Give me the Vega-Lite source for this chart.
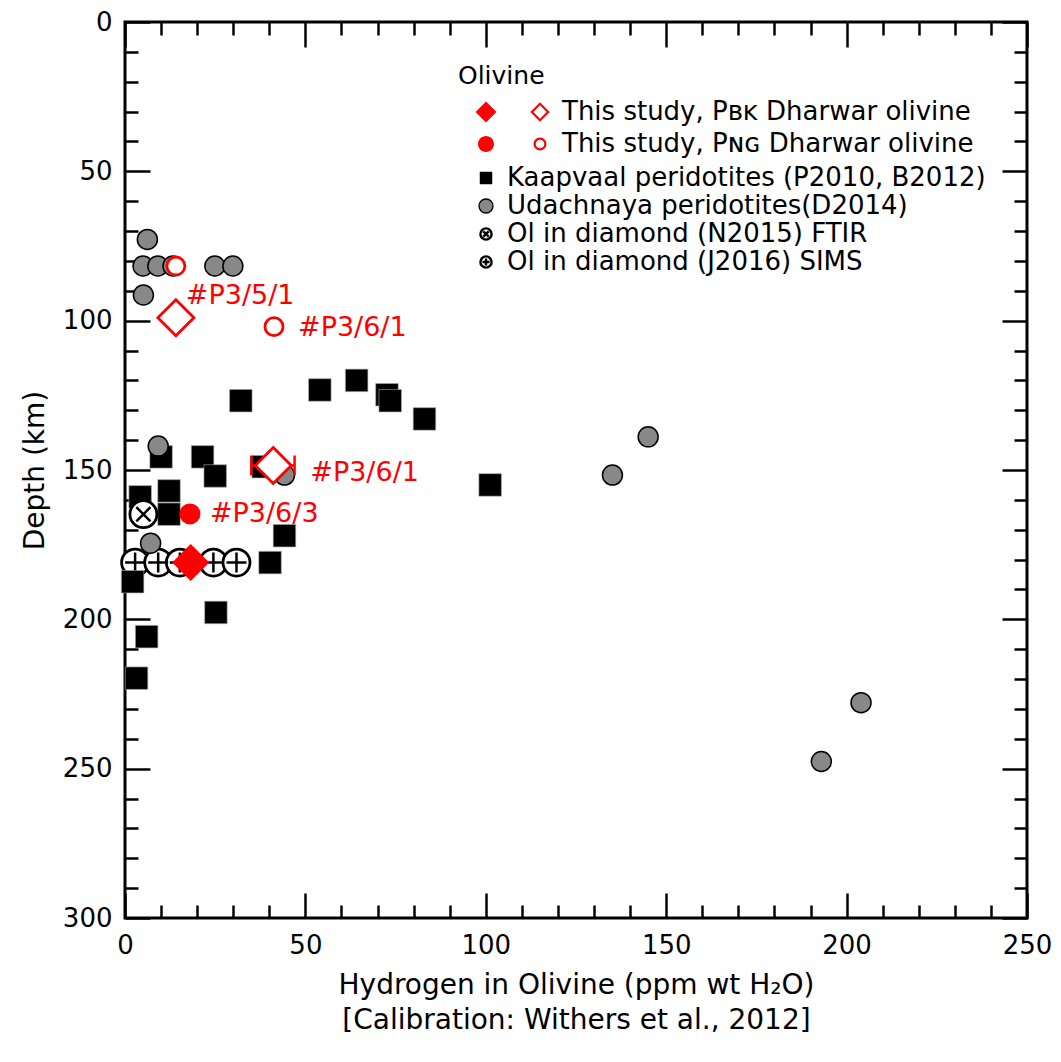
{
  "$schema": "https://vega.github.io/schema/vega-lite/v6.json",
  "width": 902,
  "height": 896,
  "autosize": {"type": "none"},
  "padding": {"left": 125, "top": 22, "right": 34, "bottom": 144},
  "background": "white",
  "config": {
    "view": {"stroke": "black", "strokeWidth": 3},
    "font": "DejaVu Sans",
    "axis": {
      "domain": false, "grid": false, "tickColor": "black", "tickWidth": 2.5,
      "labelColor": "black", "labelFont": "DejaVu Sans", "labelFontSize": 26,
      "labelFlush": false, "labelOverlap": false,
      "titleFont": "DejaVu Sans", "titleFontSize": 28, "titleFontWeight": "normal", "titleColor": "black"
    },
    "legend": {
      "orient": "none", "padding": 0,
      "titleFont": "DejaVu Sans", "titleFontSize": 25, "titleFontWeight": "normal", "titleColor": "black", "titlePadding": 10,
      "labelFont": "DejaVu Sans", "labelFontSize": 26, "labelColor": "black", "labelLimit": 900,
      "symbolSize": 256, "symbolOffset": 15
    }
  },
  "datasets": {
    "pts": [
      {"s": "J2016", "h": 2.8, "d": 181},
      {"s": "J2016", "h": 9.2, "d": 181},
      {"s": "J2016", "h": 15.2, "d": 181},
      {"s": "J2016", "h": 24.5, "d": 181},
      {"s": "J2016", "h": 30.9, "d": 181},
      {"s": "KV", "h": 10, "d": 145.6},
      {"s": "KV", "h": 21.5, "d": 145.6},
      {"s": "KV", "h": 25, "d": 152},
      {"s": "KV", "h": 38.3, "d": 148.9},
      {"s": "KV", "h": 4.2, "d": 159},
      {"s": "KV", "h": 12.2, "d": 157},
      {"s": "KV", "h": 12.2, "d": 164.8},
      {"s": "KV", "h": 44.2, "d": 172},
      {"s": "KV", "h": 40.2, "d": 181},
      {"s": "KV", "h": 2.1, "d": 187.4},
      {"s": "KV", "h": 25.2, "d": 197.7},
      {"s": "KV", "h": 6.0, "d": 205.8},
      {"s": "KV", "h": 3.2, "d": 219.7},
      {"s": "KV", "h": 32.1, "d": 126.8},
      {"s": "KV", "h": 54.0, "d": 123.2},
      {"s": "KV", "h": 64.2, "d": 120},
      {"s": "KV", "h": 72.6, "d": 124.8},
      {"s": "KV", "h": 73.5, "d": 126.8},
      {"s": "KV", "h": 83.0, "d": 132.9},
      {"s": "KV", "h": 101.2, "d": 155},
      {"s": "N2015", "h": 5.1, "d": 164.8},
      {"s": "UD", "h": 6.2, "d": 72.8},
      {"s": "UD", "h": 5.0, "d": 81.7},
      {"s": "UD", "h": 9.1, "d": 81.7},
      {"s": "UD", "h": 13.3, "d": 81.7},
      {"s": "UD", "h": 24.9, "d": 81.7},
      {"s": "UD", "h": 29.9, "d": 81.7},
      {"s": "UD", "h": 5.1, "d": 91.4},
      {"s": "UD", "h": 9.2, "d": 142},
      {"s": "UD", "h": 44.2, "d": 151.7},
      {"s": "UD", "h": 7.1, "d": 174.5},
      {"s": "UD", "h": 145.0, "d": 138.9},
      {"s": "UD", "h": 135.1, "d": 151.7},
      {"s": "UD", "h": 204, "d": 227.9},
      {"s": "UD", "h": 193, "d": 247.6},
      {"s": "BK", "st": "filled", "h": 18.2, "d": 181},
      {"s": "BK", "st": "open", "h": 14.1, "d": 99, "lab": "a", "label": "#P3/5/1"},
      {"s": "BK", "st": "open", "h": 41.1, "d": 148.5, "lab": "b", "label": "#P3/6/1", "lo": 35, "hi": 47},
      {"s": "NG", "st": "filled", "h": 18, "d": 164.7, "lab": "c", "label": "#P3/6/3"},
      {"s": "NG", "st": "open", "h": 14.1, "d": 81.7},
      {"s": "NG", "st": "open", "h": 41.3, "d": 102, "lab": "d", "label": "#P3/6/1"}
    ]
  },
  "data": {"name": "pts"},
  "resolve": {
    "axis": {"x": "independent", "y": "independent"},
    "scale": {"shape": "independent", "fill": "independent", "stroke": "independent", "strokeWidth": "independent"}
  },
  "layer": [
    {
      "transform": [{"filter": "datum.s == 'J2016'"}],
      "mark": {"type": "point", "shape": "circle", "filled": true, "fill": "white", "stroke": "black", "strokeWidth": 2.8, "size": 729, "opacity": 1},
      "encoding": {
        "x": {"field": "h", "type": "quantitative", "scale": {"domain": [0, 250], "nice": false},
          "axis": {"orient": "bottom", "values": [0, 50, 100, 150, 200, 250], "tickSize": -25, "labelPadding": 39,
            "title": ["Hydrogen in Olivine (ppm wt H₂O)", "[Calibration: Withers et al., 2012]"], "titlePadding": 13, "titleLineHeight": 35}},
        "y": {"field": "d", "type": "quantitative", "scale": {"domain": [0, 300], "nice": false, "reverse": true},
          "axis": {"orient": "left", "values": [0, 50, 100, 150, 200, 250, 300], "tickSize": -25, "labelPadding": 38,
            "title": "Depth (km)", "titlePadding": 13}}
      }
    },
    {
      "transform": [{"filter": "datum.s == 'J2016'"}],
      "mark": {"type": "point", "shape": "M-1,0L1,0M0,-1L0,1", "filled": false, "color": "black", "strokeWidth": 2.5, "size": 400, "opacity": 1},
      "encoding": {
        "x": {"field": "h", "type": "quantitative", "scale": {"domain": [0, 250], "nice": false},
          "axis": {"orient": "bottom", "values": [10, 20, 30, 40, 60, 70, 80, 90, 110, 120, 130, 140, 160, 170, 180, 190, 210, 220, 230, 240], "tickSize": -13, "labels": false, "title": null}},
        "y": {"field": "d", "type": "quantitative", "scale": {"domain": [0, 300], "nice": false, "reverse": true},
          "axis": {"orient": "left", "values": [10, 20, 30, 40, 60, 70, 80, 90, 110, 120, 130, 140, 160, 170, 180, 190, 210, 220, 230, 240, 260, 270, 280, 290], "tickSize": -13, "labels": false, "title": null}}
      }
    },
    {
      "transform": [{"filter": "datum.s == 'KV'"}],
      "mark": {"type": "point", "shape": "square", "filled": true, "fill": "black", "stroke": "#aaaaaa", "strokeWidth": 0.6, "size": 506, "opacity": 1},
      "encoding": {
        "x": {"field": "h", "type": "quantitative", "scale": {"domain": [0, 250], "nice": false},
          "axis": {"orient": "top", "values": [0, 50, 100, 150, 200, 250], "tickSize": -25, "labels": false, "title": null}},
        "y": {"field": "d", "type": "quantitative", "scale": {"domain": [0, 300], "nice": false, "reverse": true},
          "axis": {"orient": "right", "values": [0, 50, 100, 150, 200, 250, 300], "tickSize": -25, "labels": false, "title": null}}
      }
    },
    {
      "transform": [{"filter": "datum.s == 'N2015'"}],
      "mark": {"type": "point", "shape": "circle", "filled": true, "fill": "white", "stroke": "black", "strokeWidth": 2.8, "size": 729, "opacity": 1},
      "encoding": {
        "x": {"field": "h", "type": "quantitative", "scale": {"domain": [0, 250], "nice": false},
          "axis": {"orient": "top", "values": [10, 20, 30, 40, 60, 70, 80, 90, 110, 120, 130, 140, 160, 170, 180, 190, 210, 220, 230, 240], "tickSize": -13, "labels": false, "title": null}},
        "y": {"field": "d", "type": "quantitative", "scale": {"domain": [0, 300], "nice": false, "reverse": true},
          "axis": {"orient": "right", "values": [10, 20, 30, 40, 60, 70, 80, 90, 110, 120, 130, 140, 160, 170, 180, 190, 210, 220, 230, 240, 260, 270, 280, 290], "tickSize": -13, "labels": false, "title": null}}
      }
    },
    {
      "transform": [{"filter": "datum.s == 'N2015'"}],
      "mark": {"type": "point", "shape": "M-1,-1L1,1M-1,1L1,-1", "filled": false, "color": "black", "strokeWidth": 2.5, "size": 200, "opacity": 1},
      "encoding": {
        "x": {"field": "h", "type": "quantitative", "scale": {"domain": [0, 250], "nice": false}, "axis": null},
        "y": {"field": "d", "type": "quantitative", "scale": {"domain": [0, 300], "nice": false, "reverse": true}, "axis": null}
      }
    },
    {
      "transform": [{"filter": "datum.s == 'UD'"}],
      "mark": {"type": "point", "shape": "circle", "filled": true, "fill": "#888888", "stroke": "black", "strokeWidth": 1.5, "size": 400, "opacity": 1},
      "encoding": {
        "x": {"field": "h", "type": "quantitative", "scale": {"domain": [0, 250], "nice": false}, "axis": null},
        "y": {"field": "d", "type": "quantitative", "scale": {"domain": [0, 300], "nice": false, "reverse": true}, "axis": null}
      }
    },
    {
      "transform": [{"filter": "datum.lab == 'b'"}],
      "mark": {"type": "rule", "color": "red", "strokeWidth": 2.5, "opacity": 1},
      "encoding": {
        "x": {"field": "lo", "type": "quantitative", "scale": {"domain": [0, 250], "nice": false}, "axis": null},
        "x2": {"field": "hi"},
        "y": {"field": "d", "type": "quantitative", "scale": {"domain": [0, 300], "nice": false, "reverse": true}, "axis": null}
      }
    },
    {
      "transform": [{"filter": "datum.lab == 'b'"}, {"fold": ["lo", "hi"], "as": ["k", "v"]}],
      "mark": {"type": "point", "shape": "M0,-1L0,1", "filled": false, "color": "red", "strokeWidth": 2.5, "size": 400, "opacity": 1},
      "encoding": {
        "x": {"field": "v", "type": "quantitative", "scale": {"domain": [0, 250], "nice": false}, "axis": null},
        "y": {"field": "d", "type": "quantitative", "scale": {"domain": [0, 300], "nice": false, "reverse": true}, "axis": null}
      }
    },
    {
      "transform": [{"filter": "datum.s == 'BK' && datum.st == 'open'"}],
      "mark": {"type": "point", "shape": "diamond", "filled": true, "fill": "white", "stroke": "red", "strokeWidth": 2.8, "size": 1300, "opacity": 1},
      "encoding": {
        "x": {"field": "h", "type": "quantitative", "scale": {"domain": [0, 250], "nice": false}, "axis": null},
        "y": {"field": "d", "type": "quantitative", "scale": {"domain": [0, 300], "nice": false, "reverse": true}, "axis": null}
      }
    },
    {
      "transform": [{"filter": "datum.s == 'NG' && datum.st == 'open'"}],
      "mark": {"type": "point", "shape": "circle", "filled": true, "fill": "white", "stroke": "red", "strokeWidth": 2.8, "size": 324, "opacity": 1},
      "encoding": {
        "x": {"field": "h", "type": "quantitative", "scale": {"domain": [0, 250], "nice": false}, "axis": null},
        "y": {"field": "d", "type": "quantitative", "scale": {"domain": [0, 300], "nice": false, "reverse": true}, "axis": null}
      }
    },
    {
      "transform": [{"filter": "datum.s == 'NG' && datum.st == 'filled'"}],
      "mark": {"type": "point", "shape": "circle", "filled": true, "fill": "red", "strokeWidth": 0, "size": 441, "opacity": 1},
      "encoding": {
        "x": {"field": "h", "type": "quantitative", "scale": {"domain": [0, 250], "nice": false}, "axis": null},
        "y": {"field": "d", "type": "quantitative", "scale": {"domain": [0, 300], "nice": false, "reverse": true}, "axis": null}
      }
    },
    {
      "transform": [{"filter": "datum.s == 'BK' && datum.st == 'filled'"}],
      "mark": {"type": "point", "shape": "diamond", "filled": true, "fill": "red", "strokeWidth": 0, "size": 1369, "opacity": 1},
      "encoding": {
        "x": {"field": "h", "type": "quantitative", "scale": {"domain": [0, 250], "nice": false}, "axis": null},
        "y": {"field": "d", "type": "quantitative", "scale": {"domain": [0, 300], "nice": false, "reverse": true}, "axis": null}
      }
    },
    {
      "transform": [{"filter": "datum.lab == 'a'"}],
      "mark": {"type": "text", "align": "left", "baseline": "middle", "dx": 10, "dy": -22, "fontSize": 27, "font": "DejaVu Sans", "color": "red"},
      "encoding": {
        "x": {"field": "h", "type": "quantitative", "scale": {"domain": [0, 250], "nice": false}, "axis": null},
        "y": {"field": "d", "type": "quantitative", "scale": {"domain": [0, 300], "nice": false, "reverse": true}, "axis": null},
        "text": {"field": "label"}
      }
    },
    {
      "transform": [{"filter": "datum.lab == 'b'"}],
      "mark": {"type": "text", "align": "left", "baseline": "middle", "dx": 37, "dy": 7, "fontSize": 27, "font": "DejaVu Sans", "color": "red"},
      "encoding": {
        "x": {"field": "h", "type": "quantitative", "scale": {"domain": [0, 250], "nice": false}, "axis": null},
        "y": {"field": "d", "type": "quantitative", "scale": {"domain": [0, 300], "nice": false, "reverse": true}, "axis": null},
        "text": {"field": "label"}
      }
    },
    {
      "transform": [{"filter": "datum.lab == 'c'"}],
      "mark": {"type": "text", "align": "left", "baseline": "middle", "dx": 20, "dy": 0, "fontSize": 27, "font": "DejaVu Sans", "color": "red"},
      "encoding": {
        "x": {"field": "h", "type": "quantitative", "scale": {"domain": [0, 250], "nice": false}, "axis": null},
        "y": {"field": "d", "type": "quantitative", "scale": {"domain": [0, 300], "nice": false, "reverse": true}, "axis": null},
        "text": {"field": "label"}
      }
    },
    {
      "transform": [{"filter": "datum.lab == 'd'"}],
      "mark": {"type": "text", "align": "left", "baseline": "middle", "dx": 24, "dy": 1, "fontSize": 27, "font": "DejaVu Sans", "color": "red"},
      "encoding": {
        "x": {"field": "h", "type": "quantitative", "scale": {"domain": [0, 250], "nice": false}, "axis": null},
        "y": {"field": "d", "type": "quantitative", "scale": {"domain": [0, 300], "nice": false, "reverse": true}, "axis": null},
        "text": {"field": "label"}
      }
    },
    {
      "transform": [{"filter": "datum.h < 0"}],
      "mark": {"type": "point", "filled": true, "opacity": 1},
      "encoding": {
        "x": {"field": "h", "type": "quantitative", "scale": {"domain": [0, 250], "nice": false}, "axis": null},
        "y": {"field": "d", "type": "quantitative", "scale": {"domain": [0, 300], "nice": false, "reverse": true}, "axis": null},
        "shape": {"field": "s", "type": "nominal",
          "scale": {"domain": ["BK", "NG"],
            "range": [
              "M-1.3,0L0,-1.3L1.3,0L0,1.3Z M5.54,0L6.75,-1.21L7.96,0L6.75,1.21Z M5.92,0L6.75,0.83L7.58,0L6.75,-0.83Z",
              "M1,0A1,1,0,1,1,-1,0A1,1,0,1,1,1,0Z M7.56,0A0.81,0.81,0,1,1,5.94,0A0.81,0.81,0,1,1,7.56,0Z M7.29,0A0.54,0.54,0,1,0,6.21,0A0.54,0.54,0,1,0,7.29,0Z"
            ]},
          "legend": {
            "title": "Olivine", "legendX": 333, "legendY": 42, "labelOffset": 63, "rowPadding": 6, "symbolStrokeWidth": 0,
            "labelExpr": "datum.value == 'BK' ? 'This study, Pʙᴋ Dharwar olivine' : 'This study, Pɴɢ Dharwar olivine'"
          }},
        "fill": {"field": "s", "type": "nominal",
          "scale": {"domain": ["BK", "NG"], "range": ["red", "red"]}}
      }
    },
    {
      "transform": [{"filter": "datum.h < 0"}],
      "mark": {"type": "point", "filled": true, "opacity": 1},
      "encoding": {
        "x": {"field": "h", "type": "quantitative", "scale": {"domain": [0, 250], "nice": false}, "axis": null},
        "y": {"field": "d", "type": "quantitative", "scale": {"domain": [0, 300], "nice": false, "reverse": true}, "axis": null},
        "shape": {"field": "s", "type": "nominal",
          "scale": {"domain": ["KV", "UD", "N2015", "J2016"],
            "range": [
              "M-0.78,-0.78L0.78,-0.78L0.78,0.78L-0.78,0.78Z",
              "M0.875,0A0.875,0.875,0,1,1,-0.875,0A0.875,0.875,0,1,1,0.875,0Z",
              "M0.7,0A0.7,0.7,0,1,1,-0.7,0A0.7,0.7,0,1,1,0.7,0Z M-0.33,-0.33L0.33,0.33 M-0.33,0.33L0.33,-0.33",
              "M0.7,0A0.7,0.7,0,1,1,-0.7,0A0.7,0.7,0,1,1,0.7,0Z M-0.45,0L0.45,0 M0,-0.45L0,0.45"
            ]},
          "legend": {
            "title": null, "legendX": 333, "legendY": 143, "labelOffset": 8, "rowPadding": 2,
            "labelExpr": "datum.value == 'KV' ? 'Kaapvaal peridotites (P2010, B2012)' : datum.value == 'UD' ? 'Udachnaya peridotites(D2014)' : datum.value == 'N2015' ? 'Ol in diamond (N2015) FTIR' : 'Ol in diamond (J2016) SIMS'"
          }},
        "fill": {"field": "s", "type": "nominal",
          "scale": {"domain": ["KV", "UD", "N2015", "J2016"], "range": ["black", "#888888", "white", "white"]}},
        "stroke": {"field": "s", "type": "nominal",
          "scale": {"domain": ["KV", "UD", "N2015", "J2016"], "range": ["transparent", "black", "black", "black"]}},
        "strokeWidth": {"field": "s", "type": "nominal",
          "scale": {"type": "ordinal", "domain": ["KV", "UD", "N2015", "J2016"], "range": [0, 1.3, 2.4, 2.4]}}
      }
    }
  ]
}
